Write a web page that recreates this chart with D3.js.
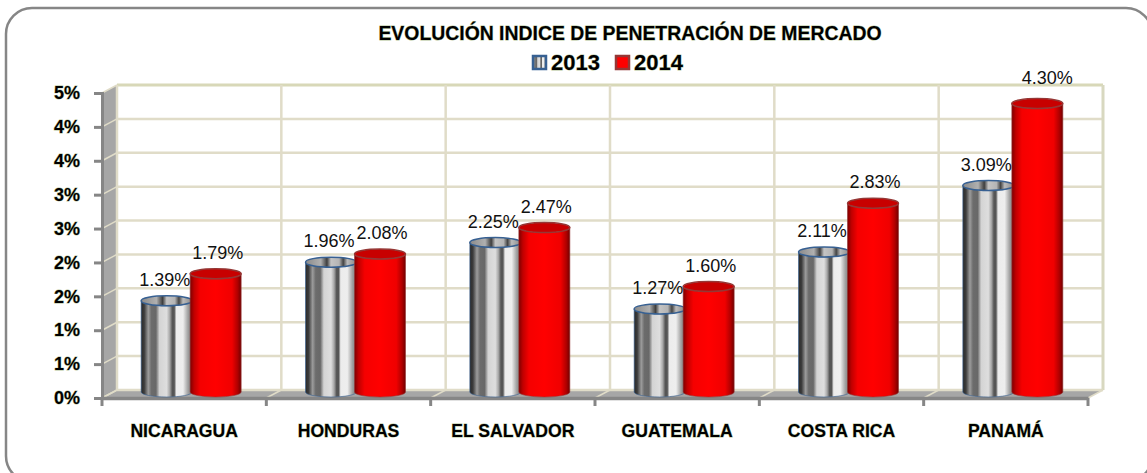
<!DOCTYPE html>
<html>
<head>
<meta charset="utf-8">
<script src="https://cdn.jsdelivr.net/npm/d3@7"></script>
<style>
    html, body { margin: 0; padding: 0; background: #fff; overflow: hidden; }
    text { font-family: "Liberation Sans", sans-serif; }
    .heavy { font-weight: bold; fill: #000; stroke: #b4c496; stroke-width: 0.8px; paint-order: stroke; }
</style>
</head>
<body>
<div id="chart"></div>
<script>
var title = "EVOLUCIÓN INDICE DE PENETRACIÓN DE MERCADO";
var categories = ["NICARAGUA", "HONDURAS", "EL SALVADOR", "GUATEMALA", "COSTA RICA", "PANAMÁ"];
var series = ["2013", "2014"];
var values2013 = [1.39, 1.96, 2.25, 1.27, 2.11, 3.09];
var values2014 = [1.79, 2.08, 2.47, 1.60, 2.83, 4.30];
var yTicks = [0, 0.5, 1, 1.5, 2, 2.5, 3, 3.5, 4, 4.5];
var yTickLabels = ["0%", "1%", "1%", "2%", "2%", "3%", "3%", "4%", "4%", "5%"];

var width = 1147, height = 473;
var depthX = 15, depthY = 8;

var svg = d3.select("#chart")
    .append("svg")
    .attr("width", width)
    .attr("height", height)
    .style("display", "block");

var defs = svg.append("defs");

// metal look of the 2013 cylinders
var metalStops = [[0, "#2a2a2a"], [0.06, "#3c3c3c"], [0.14, "#9c9c9c"], [0.2, "#6c6c6c"], [0.29, "#686868"], [0.36, "#d4d4d4"],
    [0.5, "#dedede"], [0.56, "#a8a8a8"], [0.61, "#555"], [0.65, "#555"], [0.69, "#ececec"], [0.82, "#eee"], [0.92, "#a0a0a0"], [1, "#777"]];
var metalTopStops = [[0, "#8a8a8a"], [0.3, "#b0b0b0"], [0.42, "#3e3e3e"], [0.5, "#c4c4c4"], [0.66, "#b4b4b4"], [0.74, "#444"], [0.82, "#bbb"], [1, "#888"]];
var redStops = [[0, "#7e0000"], [0.08, "#c00000"], [0.2, "#f50000"], [0.5, "#ff0000"], [0.82, "#f00000"], [0.93, "#b00000"], [1, "#720000"]];

function addGradient(id, stops) {
    var g = defs.append("linearGradient").attr("id", id);
    g.selectAll("stop").data(stops).enter().append("stop")
        .attr("offset", d => d[0])
        .attr("stop-color", d => d[1]);
}
addGradient("metal", metalStops);
addGradient("metalTop", metalTopStops);
addGradient("red", redStops);

// scales
var x = d3.scaleBand().domain(categories).range([102, 1088]);
var xSeries = d3.scaleBand().domain(series).range([-49, 49]);
var y = d3.scaleLinear().domain([0, 4.5]).range([398, 93]);

// outer frame, runs past the right and bottom edge of the picture
svg.append("rect")
    .attr("x", 6).attr("y", 8)
    .attr("width", 1146).attr("height", 474)
    .attr("rx", 26)
    .attr("fill", "#fff")
    .attr("stroke", "#868686")
    .attr("stroke-width", 2.5);

// side wall and floor
svg.append("path")
    .attr("d", `M102,${y(4.5)}L${102 + depthX},${y(4.5) - depthY}L${102 + depthX},${y(0) - depthY}L102,${y(0)}Z`)
    .attr("fill", "#a6a6a6");
svg.append("path")
    .attr("d", `M102,${y(0)}L${102 + depthX},${y(0) - depthY}L${1088 + depthX},${y(0) - depthY}L1088,${y(0)}Z`)
    .attr("fill", "#a6a6a6");

// gridlines on the back wall
var gridColor = "#e0dcc8";
svg.selectAll(".hgrid").data(yTicks).enter().append("line")
    .attr("class", "hgrid")
    .attr("x1", 102 + depthX).attr("x2", 1088 + depthX)
    .attr("y1", d => y(d) - depthY).attr("y2", d => y(d) - depthY)
    .attr("stroke", d => d == 4.5 ? "#d8d8b8" : gridColor)
    .attr("stroke-width", d => d == 4.5 ? 3 : 2.5);
svg.selectAll(".wallgrid").data(yTicks).enter().append("line")
    .attr("class", "wallgrid")
    .attr("x1", 102).attr("x2", 102 + depthX)
    .attr("y1", d => y(d)).attr("y2", d => y(d) - depthY)
    .attr("stroke", gridColor)
    .attr("stroke-width", 1.5);

var boundaries = d3.range(categories.length + 1).map(i => 102 + i * x.step());
svg.selectAll(".vgrid").data(boundaries).enter().append("line")
    .attr("class", "vgrid")
    .attr("x1", d => d + depthX).attr("x2", d => d + depthX)
    .attr("y1", y(4.5) - depthY).attr("y2", y(0) - depthY)
    .attr("stroke", (d, i) => i == categories.length ? "#d8d8c0" : gridColor)
    .attr("stroke-width", (d, i) => i == categories.length ? 3 : 2.5);
svg.selectAll(".floorgrid").data(boundaries).enter().append("line")
    .attr("class", "floorgrid")
    .attr("x1", d => d).attr("x2", d => d + depthX)
    .attr("y1", y(0)).attr("y2", y(0) - depthY)
    .attr("stroke", gridColor)
    .attr("stroke-width", 1.5);

// axes
var yAxis = d3.axisLeft(y)
    .tickValues(yTicks)
    .tickFormat((d, i) => yTickLabels[i])
    .tickSize(8)
    .tickPadding(14);
var yAxisG = svg.append("g").attr("transform", "translate(102,0)").call(yAxis);
yAxisG.select(".domain").attr("stroke", "#868686").attr("stroke-width", 3);
yAxisG.selectAll(".tick line").attr("stroke", "#868686").attr("stroke-width", 3);
yAxisG.selectAll("text").attr("class", "heavy").style("font-size", "18px");

var xAxis = d3.axisBottom(x).tickSize(0).tickPadding(27);
var xAxisG = svg.append("g").attr("transform", `translate(0,${y(0)})`).call(xAxis);
xAxisG.select(".domain").attr("stroke", "#868686").attr("stroke-width", 3.5);
xAxisG.selectAll("text").attr("class", "heavy").style("font-size", "17.6px");

svg.selectAll(".xtick").data(boundaries).enter().append("line")
    .attr("class", "xtick")
    .attr("x1", d => d).attr("x2", d => d)
    .attr("y1", y(0)).attr("y2", y(0) + 8)
    .attr("stroke", "#868686")
    .attr("stroke-width", 3);

// cylinders
var rx = 25.5, ry = 5, baseLift = 6, topLift = 3;

function cylinderBody(cx, top, bottom) {
    return `M${cx - rx},${top}L${cx - rx},${bottom}A${rx},${ry} 0 0 0 ${cx + rx},${bottom}L${cx + rx},${top}A${rx},${ry} 0 0 1 ${cx - rx},${top}Z`;
}

function drawSeries(name, values, fill, edge, topFill) {
    var cx = (d, i) => x(categories[i]) + x.bandwidth() / 2 + 7 + xSeries(name) + xSeries.bandwidth() / 2;
    var g = svg.append("g");
    g.selectAll("path").data(values).enter().append("path")
        .attr("d", (d, i) => cylinderBody(cx(d, i), y(d) - topLift, y(0) - baseLift))
        .attr("fill", fill)
        .attr("stroke", edge)
        .attr("stroke-opacity", 0.6);
    g.selectAll("ellipse").data(values).enter().append("ellipse")
        .attr("cx", (d, i) => cx(d, i))
        .attr("cy", d => y(d) - topLift)
        .attr("rx", rx)
        .attr("ry", ry)
        .attr("fill", topFill)
        .attr("stroke", edge)
        .attr("stroke-width", 1.5);
}

drawSeries("2013", values2013, "url(#metal)", "#376092", "url(#metalTop)");
drawSeries("2014", values2014, "url(#red)", "#953735", "#c80000");

// value labels
function drawLabels(name, values, shift) {
    svg.append("g").selectAll("text").data(values).enter().append("text")
        .attr("x", (d, i) => x(categories[i]) + x.bandwidth() / 2 + 7 + xSeries(name) + xSeries.bandwidth() / 2 + shift)
        // the tallest label was moved by hand in the original
        .attr("dx", d => d == 4.30 ? 8 : 0)
        .attr("dy", d => d == 4.30 ? -5 : 0)
        .attr("y", d => y(d) - topLift - 15)
        .attr("text-anchor", "middle")
        .attr("fill", "#111")
        .style("font-size", "18px")
        .text(d => d3.format(".2f")(d) + "%");
}
drawLabels("2013", values2013, -2);
drawLabels("2014", values2014, 2);

// title and legend
svg.append("text")
    .attr("class", "heavy")
    .attr("x", 630).attr("y", 40)
    .attr("text-anchor", "middle")
    .style("font-size", "19.4px")
    .text(title);

var legendX = d3.scaleOrdinal().domain(series).range([532, 615]);
var legendFill = { "2013": "url(#metal)", "2014": "#ff0000" };
var legendEdge = { "2013": "#376092", "2014": "#953735" };
var legend = svg.append("g").selectAll("g").data(series).enter().append("g")
    .attr("transform", d => `translate(${legendX(d)},55)`);
legend.append("rect")
    .attr("x", 1).attr("y", 1)
    .attr("width", 13).attr("height", 13)
    .attr("fill", d => legendFill[d])
    .attr("stroke", d => legendEdge[d])
    .attr("stroke-width", 2.5);
legend.append("text")
    .attr("class", "heavy")
    .attr("x", 19).attr("y", 15)
    .style("font-size", "22px")
    .text(d => d);
</script>
</body>
</html>
